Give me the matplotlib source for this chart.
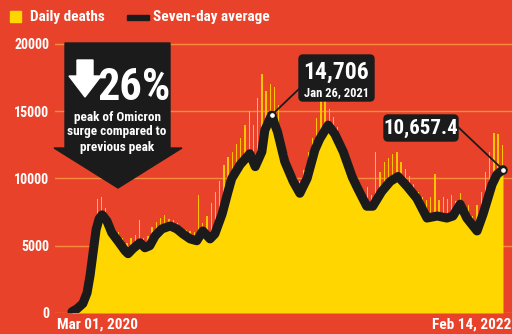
import numpy as np
import pandas as pd
import matplotlib
matplotlib.use('Agg')
import matplotlib.pyplot as plt
import matplotlib.dates as mdates
from matplotlib.patches import FancyBboxPatch, Polygon, Rectangle

RED = '#E8432A'
YELLOW = '#FFD600'
SPIKE = '#FFC400'
INK = '#1B1B1B'
GRID = '#F58B3B'

plt.rcParams['font.family'] = ['Roboto Condensed', 'Liberation Sans Narrow', 'DejaVu Sans']
plt.rcParams['font.weight'] = 'bold'

START = pd.Timestamp('2020-03-01')

# seven-day average (days after Mar 1, 2020)
avg_days = [0, 8, 18, 25, 30, 35, 40, 45, 50, 58,
            66, 76, 88, 93, 101, 113, 121, 129, 138, 149,
            163, 174, 184, 196, 207, 217, 229, 237, 249, 259,
            265, 279, 295, 304, 315, 320, 331, 341, 353, 367,
            378, 390, 403, 411, 425, 436, 450, 465, 474, 489,
            499, 514, 528, 541, 556, 572, 589, 606, 622, 632,
            644, 655, 672, 682, 697, 705, 715]
avg_vals = [100, 300, 700, 1500, 2800, 4500, 6200, 7000, 7300, 6840,
            5960, 5370, 4630, 4410, 4780, 5220, 4850, 5000, 5740, 6250,
            6470, 6250, 5880, 5510, 5370, 6100, 5510, 5880, 7350, 9040,
            10000, 11030, 11840, 10880, 11990, 13600, 14706, 13460, 11250, 9780,
            8900, 10000, 12130, 12940, 13970, 13310, 11990, 10100, 9260, 7940,
            7940, 9040, 9780, 10150, 9410, 8530, 7060, 7210, 7060, 7210,
            8090, 7060, 6100, 7350, 9560, 10300, 10657.4]

# daily deaths, one reading per week
daily_days = list(range(0, 715, 7))
daily_vals = [200, 400, 900, 1500, 3000, 5500, 8500, 8600, 7800, 6900,
              6200, 6000, 5600, 5200, 5600, 5800, 6900, 5600, 5700, 6400,
              6800, 7100, 7300, 7000, 6900, 6700, 6300, 6200, 6100, 6000,
              8800, 6700, 7200, 8200, 9000, 9800, 11000, 11600, 12000, 12600,
              13000, 14000, 15000, 14000, 16000, 17800, 16500, 17000, 16800, 15500,
              12500, 11800, 10800, 10000, 9800, 10600, 12000, 13000, 14500, 15800,
              16000, 15200, 14600, 13800, 12800, 11500, 10800, 9800, 9200, 8800,
              9400, 8800, 12000, 10500, 11200, 11500, 11800, 12000, 11200, 10700,
              10200, 9600, 9000, 8600, 8400, 8600, 10300, 8400, 8600, 8500,
              8800, 8300, 8900, 8200, 8000, 7200, 8000, 9000, 10500, 12000,
              13400, 13300, 12500]

yticks = [0, 5000, 10000, 15000, 20000]
peak_day, peak_val = 331, 14706
last_day, last_val = 715, 10657.4

avg_x = START + pd.to_timedelta(avg_days, unit='D')
daily_x = START + pd.to_timedelta(daily_days, unit='D')

fig = plt.figure(figsize=(5.12, 3.34), dpi=100, facecolor=RED)
ax = fig.add_axes([55 / 512, 21 / 334, 457 / 512, 273 / 334])
ax.set_facecolor(RED)

ax.bar(daily_x, daily_vals, width=2.2, color=SPIKE, zorder=2)
ax.fill_between(avg_x, avg_vals, 0, color=YELLOW, lw=0, zorder=3)
ax.plot(avg_x, avg_vals, color=INK, lw=6.5, solid_capstyle='round',
        solid_joinstyle='round', zorder=4)

ax.set_xlim(mdates.date2num(START - pd.Timedelta(days=28.2)),
            mdates.date2num(START + pd.Timedelta(days=730)))
ax.set_ylim(0, 20297)
ax.set_yticks(yticks)
ax.set_yticklabels([str(v) for v in yticks])
ax.set_xticks([])
ax.tick_params(axis='y', length=0, pad=4, labelcolor='white', labelsize=10)
ax.grid(axis='y', color=GRID, lw=1, zorder=1)
ax.set_axisbelow(True)
for s in ax.spines.values():
    s.set_visible(False)

# markers + connectors
pk = START + pd.Timedelta(days=peak_day)
ls = START + pd.Timedelta(days=last_day)
for d, v, tx in [(pk, peak_val, (300, 334 - 88)), (ls, last_val, (457, 334 - 126))]:
    ax.annotate('', xy=(d, v), xycoords='data', xytext=tx, textcoords='figure pixels',
                arrowprops=dict(arrowstyle='-', color=INK, lw=1.3, shrinkA=0, shrinkB=0),
                zorder=5)
    ax.scatter([d], [v], s=22, color='white', edgecolor=INK, lw=1.3, zorder=6)

# overlay in pixel coordinates
ov = fig.add_axes([0, 0, 1, 1])
ov.set_xlim(0, 512)
ov.set_ylim(334, 0)
ov.axis('off')
ov.patch.set_alpha(0)

# legend
ov.add_patch(Rectangle((10, 11), 11, 11, color=YELLOW))
ov.text(30, 17, 'Daily deaths', color='white', fontsize=11, va='center', ha='left')
ov.add_patch(Rectangle((127, 14.5), 22, 5, color=INK))
ov.text(153, 17, 'Seven-day average', color='white', fontsize=11, va='center', ha='left')

# big down arrow callout
ov.add_patch(Polygon([(65, 43), (170, 43), (170, 148), (182, 148), (118, 188),
                      (54, 148), (65, 148)], closed=True, color=INK))
ov.add_patch(Polygon([(77, 60), (93, 60), (93, 76), (101, 76), (85, 97),
                      (69, 76), (77, 76)], closed=True, color='white'))
ov.text(134, 100, '26%', color='white', fontsize=32, ha='center', va='baseline')
ov.text(117, 117, 'peak of Omicron', color='white', fontsize=9.5, ha='center', va='center')
ov.text(117, 132, 'surge compared to', color='white', fontsize=9.5, ha='center', va='center')
ov.text(117, 147, 'previous peak', color='white', fontsize=9.5, ha='center', va='center')

# value boxes
ov.add_patch(FancyBboxPatch((299, 55), 75, 46, boxstyle='round,pad=0,rounding_size=4',
                            color=INK))
ov.text(336.5, 72, '14,706', color='white', fontsize=17, ha='center', va='center')
ov.text(336.5, 93, 'Jan 26, 2021', color='white', fontsize=9, ha='center', va='center')
ov.add_patch(FancyBboxPatch((384, 115), 74, 26, boxstyle='round,pad=0,rounding_size=4',
                            color=INK))
ov.text(421, 128.5, '10,657.4', color='white', fontsize=15, ha='center', va='center')

# x labels
ov.text(57, 325, 'Mar 01, 2020', color='white', fontsize=11, ha='left', va='center')
ov.text(511, 325, 'Feb 14, 2022', color='white', fontsize=11, ha='right', va='center')

fig.savefig('out.png', dpi=100, facecolor=RED)
